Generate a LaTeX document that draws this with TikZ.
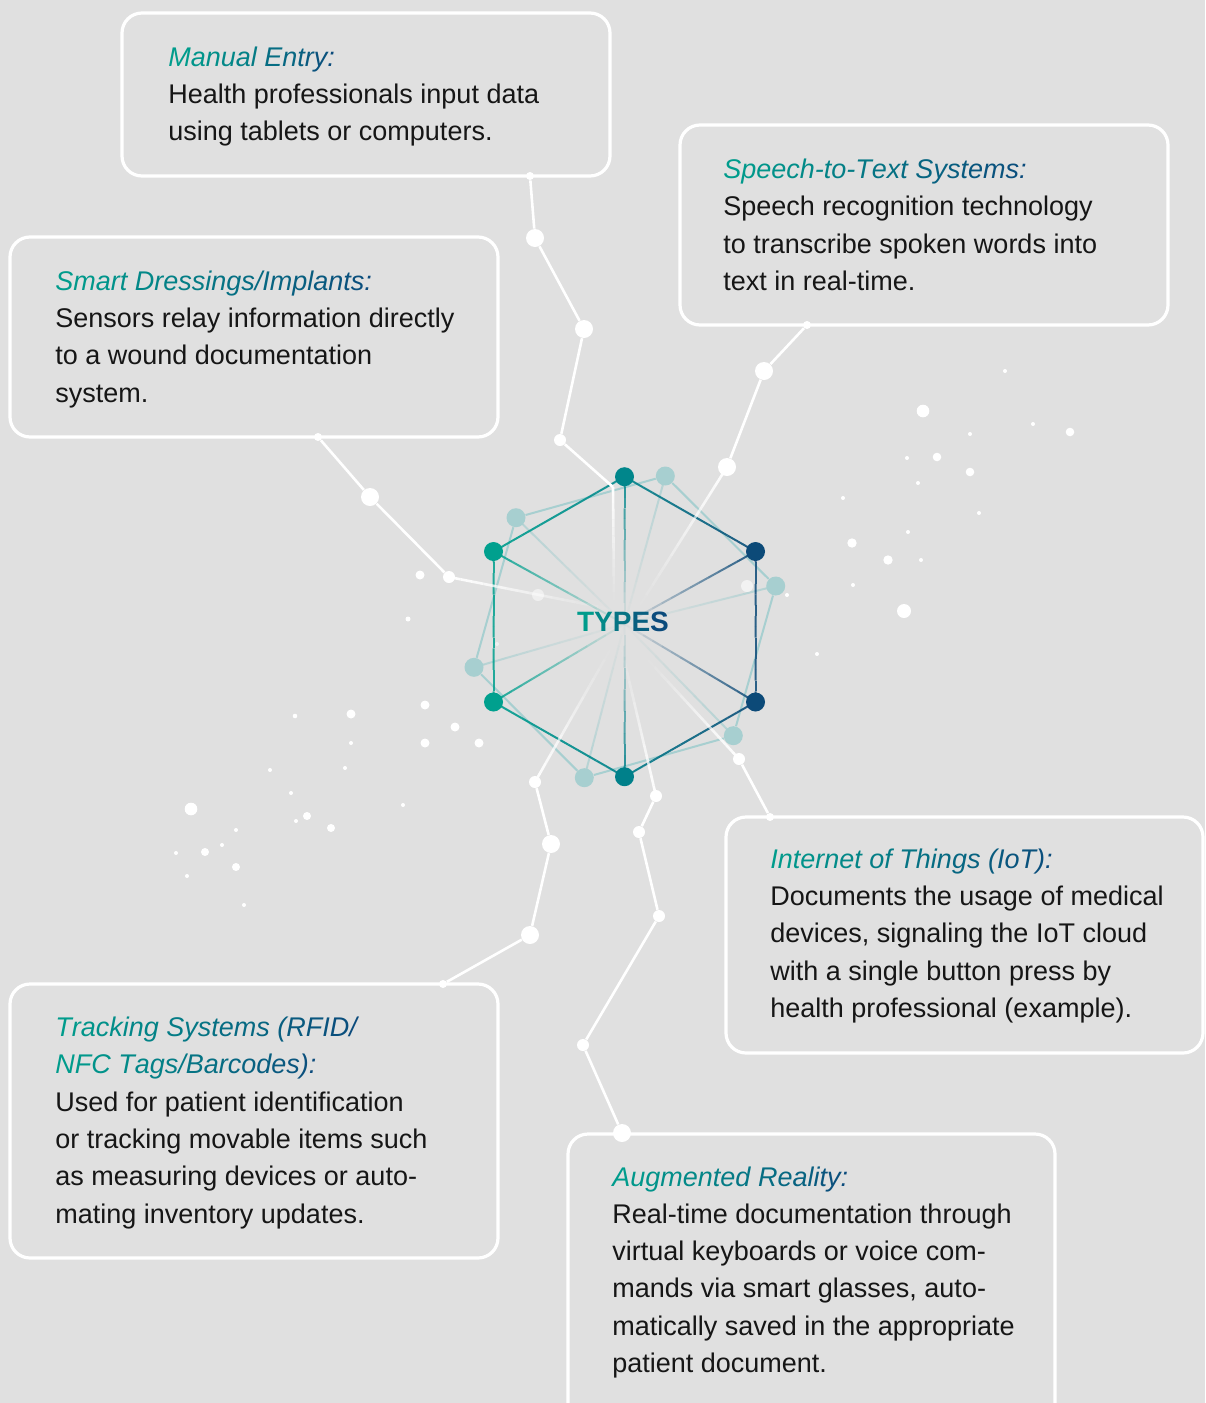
\documentclass[tikz,border=0pt]{standalone}
\usepackage{fontspec}
\setmainfont{Liberation Sans}
\usepackage{tikz}
\usetikzlibrary{calc,positioning}
\pgfdeclarelayer{bg}
\pgfdeclarelayer{links}
\pgfsetlayers{bg,links,main}

\definecolor{bgrey}{HTML}{E0E0E0}
\definecolor{tealA}{HTML}{009C8C}
\definecolor{blueB}{HTML}{0B4B7C}
\definecolor{hexT}{HTML}{00868B}
\definecolor{hexL}{HTML}{00A08E}
\definecolor{hexR}{HTML}{0C4A78}
\definecolor{hexB}{HTML}{00808A}
\definecolor{pale}{HTML}{A7CFD0}
\definecolor{ink}{HTML}{161616}

% letter by letter colour ramp for headings (spaces written as ~)
\newcount\gcnt
\newcount\gtot
\def\gradcount#1{\ifx#1\relax\else\advance\gtot1 \expandafter\gradcount\fi}
\def\gradprint#1{\ifx#1\relax\else
  \pgfmathtruncatemacro\gp{100*\the\gcnt/(\the\gtot-1)}%
  \textcolor{blueB!\gp!tealA}{#1}\advance\gcnt1 \expandafter\gradprint\fi}
\newcommand\gradtext[1]{\gtot=0 \gradcount#1\relax\gcnt=0 \gradprint#1\relax}
\newcommand\headline[1]{{\itshape\gradtext{#1}}}

% straight line cut in pieces: from, to, colour from, colour to, opacity from, opacity to
\newcommand\gradline[6]{%
  \foreach \k in {1,...,14}{%
    \pgfmathsetmacro\ta{(\k-1)/14}%
    \pgfmathsetmacro\tb{\k/14}%
    \pgfmathtruncatemacro\mixp{100*(\k-0.5)/14}%
    \pgfmathsetmacro\op{#5+(#6-#5)*(\k-0.5)/14}%
    \draw[draw=#4!\mixp!#3, draw opacity=\op] ($(#1)!\ta!(#2)$) -- ($(#1)!\tb!(#2)$);%
  }}

\begin{document}
\begin{tikzpicture}[x=0.5pt,y=-0.5pt,
  panel/.style={draw=white, line width=1.6pt, rounded corners=10pt},
  txt/.style={anchor=base west, align=left, inner sep=0pt, text=ink,
    font=\fontsize{13.5}{18.65}\selectfont},
  wdot/.style={circle, fill=white, inner sep=0pt, minimum size=#1},
  wdot/.default=4pt,
  hdot/.style={circle, fill=#1, inner sep=0pt, minimum size=9.5pt},
  link/.style={white, line width=1.3pt},
  speck/.style={circle, fill=white, inner sep=0pt}]

\begin{pgfonlayer}{bg}
 \fill[bgrey] (0,0) rectangle (1205,1403);
\end{pgfonlayer}
\useasboundingbox (0,0) rectangle (1205,1403);

% panels
\draw[panel] (122,13) rectangle (610,176);
\draw[panel] (10,237) rectangle (498,437);
\draw[panel] (680,125) rectangle (1168,325);
\draw[panel] (726,817) rectangle (1203,1053);
\draw[panel] (10,984) rectangle (498,1258);
\draw[panel] (568,1134) rectangle (1055,1425);

% texts (placed by the baseline of their last line)
\node[txt] (manual) at (168,140.8) {\headline{Manual~Entry:}\\Health professionals input data\\using tablets or computers.};
\node[txt] (smart) at (55,402) {\headline{Smart~Dressings/Implants:}\\Sensors relay information directly\\to a wound documentation\\system.};
\node[txt] (speech) at (723,290.5) {\headline{Speech-to-Text~Systems:}\\Speech recognition technology\\to transcribe spoken words into\\text in real-time.};
\node[txt] (iot) at (770,1017.5) {\headline{Internet~of~Things~(IoT):}\\Documents the usage of medical\\devices, signaling the IoT cloud\\with a single button press by\\health professional (example).};
\node[txt] (tracking) at (55,1223) {\headline{Tracking~Systems~(RFID/}\\\headline{NFC~Tags/Barcodes):}\\Used for patient identification\\or tracking movable items such\\as measuring devices or auto-\\mating inventory updates.};
\node[txt] (ar) at (612,1372.5) {\headline{Augmented~Reality:}\\Real-time documentation through\\virtual keyboards or voice com-\\mands via smart glasses, auto-\\matically saved in the appropriate\\patient document.};

% specks
\foreach \x/\y/\r [count=\i] in {420/575/4.5, 408/619/2.5, 351/714/4.5, 425/705/4.5, 455/727/4.5,
  425/743/4.5, 479/743/4.5, 351/743/2, 345/768/2, 295/716/2.3, 270/770/2, 291/793/2,
  191/809/6.3, 307/816/4, 296/821/2, 331/828/4, 403/805/2, 236/830/2, 222/845/2,
  205/852/4, 176/853/2, 236/867/4, 187/876/2, 244/905/2,
  1005/371/2, 923/411/6.3, 1033/424/2, 1070/432/4.3, 970/434/2, 907/458/2, 937/457/4.3,
  970/472/4.3, 918/483/2, 843/498/2, 979/513/2, 908/532/2, 852/543/4.7, 888/560/4.7,
  921/560/2, 853/585/2, 904/611/7, 817/654/2, 787/595/2}
  \node[speck, minimum size=\r pt] (speck\i) at (\x,\y) {};
\node[speck, minimum size=6pt, fill opacity=0.5] (haze1) at (538,595) {};
\node[speck, minimum size=6pt, fill opacity=0.6] (haze2) at (747,586) {};
\node[speck, minimum size=2pt, fill opacity=0.5] (haze3) at (497,644) {};

% hexagons
\coordinate (hub) at (624.5,624);
\node[hdot=pale] (p1) at (665.3,476) {};
\node[hdot=pale] (p2) at (516,517.7) {};
\node[hdot=pale] (p3) at (474,667.3) {};
\node[hdot=pale] (p4) at (584.3,777.7) {};
\node[hdot=pale] (p5) at (733.3,735.7) {};
\node[hdot=pale] (p6) at (775.7,586) {};
\node[hdot=hexT] (h1) at (624.5,476.7) {};
\node[hdot=hexR] (h2) at (755.5,551.5) {};
\node[hdot=hexR] (h3) at (755.5,702) {};
\node[hdot=hexB] (h4) at (624.5,776.7) {};
\node[hdot=hexL] (h5) at (493.5,702) {};
\node[hdot=hexL] (h6) at (493.5,551.5) {};
\node[font=\bfseries\fontsize{14}{16}\selectfont, inner sep=0pt] (types) at (623,622) {\gradtext{TYPES}};

% chains
\node[wdot] (m1) at (530,176) {};
\node[wdot=9pt] (m2) at (535,238) {};
\node[wdot=9pt] (m3) at (584,329) {};
\node[wdot=6pt] (m4) at (560,440) {};
\coordinate (m5) at (613,487);
\coordinate (mEnd) at (614,600);
\node[wdot] (s1) at (807,325) {};
\node[wdot=9pt] (s2) at (764,371) {};
\node[wdot=9pt] (s3) at (727,467) {};
\coordinate (sEnd) at (640,605);
\node[wdot] (d1) at (318,437) {};
\node[wdot=9pt] (d2) at (370,497) {};
\node[wdot=6pt] (d3) at (449,577) {};
\coordinate (dEnd) at (610,609);
\node[wdot] (i1) at (770,817) {};
\node[wdot=6pt] (i2) at (739,759) {};
\coordinate (iEnd) at (648,660);
\node[wdot] (t1) at (443,984) {};
\node[wdot=9pt] (t2) at (530,935) {};
\node[wdot=9pt] (t3) at (551,844) {};
\node[wdot=6pt] (t4) at (535,782) {};
\coordinate (tEnd) at (610,650);
\node[wdot=9pt] (a1) at (622,1133) {};
\node[wdot=6pt] (a2) at (583,1045) {};
\node[wdot=6pt] (a3) at (659,916) {};
\node[wdot=6pt] (a4) at (639,832) {};
\node[wdot=6pt] (a5) at (656,796) {};
\coordinate (aEnd) at (622,650);

% edges
\begin{pgfonlayer}{links}
 \draw[pale, line width=1pt] (p1) -- (p2) -- (p3) -- (p4) -- (p5) -- (p6) -- (p1);
 \begin{scope}[line width=1pt]
  \foreach \v in {p1,p2,p3,p4,p5,p6}
   \gradline{\v}{hub}{pale}{pale}{0.8}{0};
  \foreach \v/\c in {h1/hexT,h2/hexR,h3/hexR,h4/hexB,h5/hexL,h6/hexL}
   \gradline{\v}{hub}{\c}{\c}{0.9}{0};
  \gradline{h1}{h2}{hexT}{hexR}{0.9}{0.9}
  \gradline{h2}{h3}{hexR}{hexR}{0.85}{0.85}
  \gradline{h3}{h4}{hexR}{hexB}{0.9}{0.9}
  \gradline{h4}{h5}{hexB}{hexL}{0.9}{0.9}
  \gradline{h5}{h6}{hexL}{hexL}{0.85}{0.85}
  \gradline{h6}{h1}{hexL}{hexT}{0.9}{0.9}
 \end{scope}
 \draw[link] (m1) -- (m2) -- (m3) -- (m4) -- (m5);
 \draw[link] (s1) -- (s2) -- (s3);
 \draw[link] (d1) -- (d2) -- (d3);
 \draw[link] (i1) -- (i2);
 \draw[link] (t1) -- (t2) -- (t3) -- (t4);
 \draw[link] (a1) -- (a2) -- (a3) -- (a4) -- (a5);
 \begin{scope}[line width=1.3pt]
  \foreach \a/\b in {m5/mEnd,s3/sEnd,d3/dEnd,i2/iEnd,t4/tEnd,a5/aEnd}
   \gradline{\a}{\b}{white}{white}{1}{0};
 \end{scope}
\end{pgfonlayer}

\end{tikzpicture}
\end{document}
